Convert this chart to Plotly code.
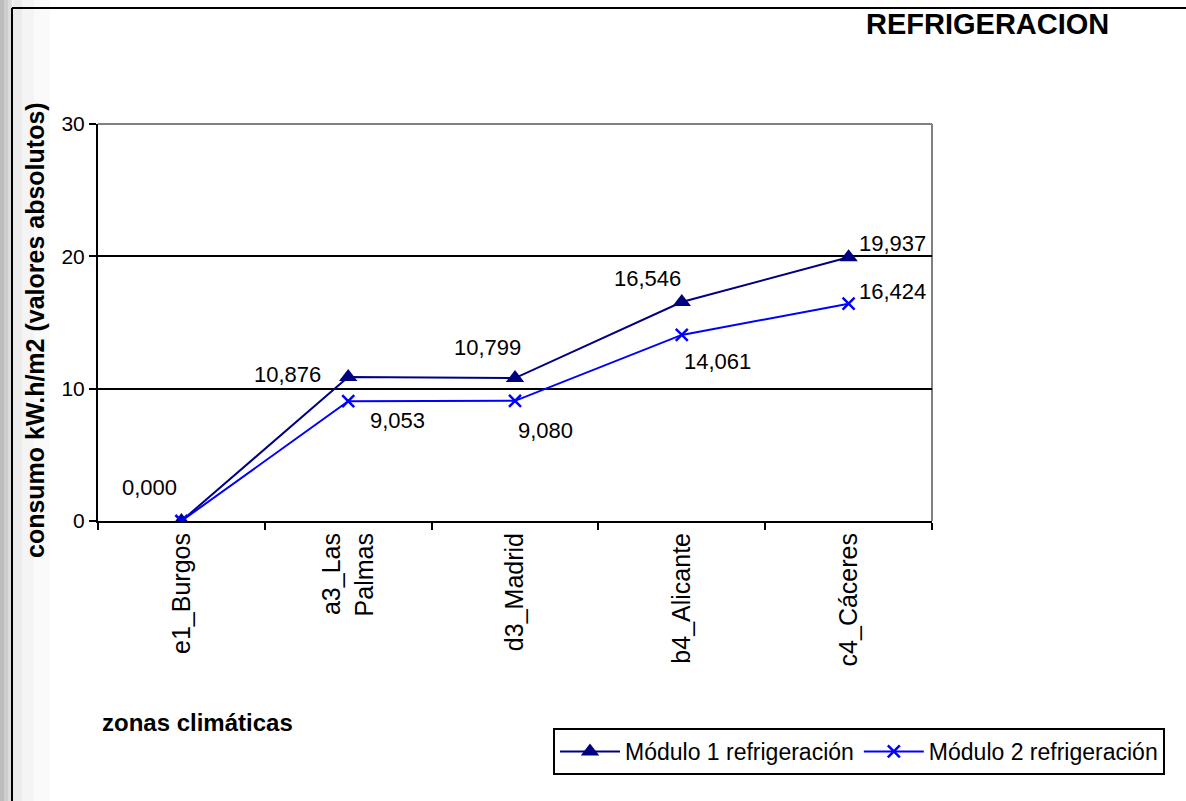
import plotly.graph_objects as go

# Climate zones and cooling consumption (kW.h/m2)
zonas = ["e1_Burgos", "a3_Las Palmas", "d3_Madrid", "b4_Alicante", "c4_Cáceres"]
zona_labels = ["e1_Burgos", "a3_Las<br>Palmas", "d3_Madrid", "b4_Alicante", "c4_Cáceres"]
modulo1 = [0.000, 10.876, 10.799, 16.546, 19.937]
modulo2 = [0.000, 9.053, 9.080, 14.061, 16.424]
y_ticks = [0, 10, 20, 30]

FONT = "Liberation Sans, Arial, sans-serif"
W, H = 1186, 801
L, R, T, B = 98, 932, 124, 521  # plot area in pixels


def px_x(px):
    return (px - L) / (R - L)


def px_y(py):
    return (B - py) / (B - T)


def fmt(v):
    return f"{v:.3f}".replace(".", ",")


fig = go.Figure()
fig.add_trace(go.Scatter(
    x=zonas, y=modulo1, mode="lines+markers", name="Módulo 1 refrigeración",
    line=dict(color="#000080", width=2),
    marker=dict(symbol="triangle-up", size=16, color="#000080"),
))
fig.add_trace(go.Scatter(
    x=zonas, y=modulo2, mode="lines+markers", name="Módulo 2 refrigeración",
    line=dict(color="#0000FF", width=2),
    marker=dict(symbol="x-thin", size=12, color="#0000FF",
                line=dict(color="#0000FF", width=2.5)),
))

# value labels (pixel offsets from each point)
off1 = [(-32, 34), (-61, 3), (-28, 31), (-34, 24), (44, 14)]
off2 = [None, (49, -19), (30, -30), (36, -27), (44, 12)]
annotations = []
for z, v, o in zip(zonas, modulo1, off1):
    annotations.append(dict(x=z, y=v, text=fmt(v), showarrow=False,
                            xshift=o[0], yshift=o[1],
                            font=dict(family=FONT, size=22, color="black")))
for z, v, o in zip(zonas, modulo2, off2):
    if o is None:
        continue
    annotations.append(dict(x=z, y=v, text=fmt(v), showarrow=False,
                            xshift=o[0], yshift=o[1],
                            font=dict(family=FONT, size=22, color="black")))

# titles
annotations.append(dict(xref="paper", yref="paper", x=px_x(864), y=px_y(24),
                        xanchor="left", yanchor="middle", showarrow=False,
                        text="<b>REFRIGERACION</b>",
                        font=dict(family=FONT, size=29, color="black")))
annotations.append(dict(xref="paper", yref="paper", x=px_x(35), y=px_y(330),
                        xanchor="center", yanchor="middle", showarrow=False,
                        textangle=-90,
                        text="<b>consumo kW.h/m2 (valores absolutos)</b>",
                        font=dict(family=FONT, size=25, color="black")))
annotations.append(dict(xref="paper", yref="paper", x=px_x(100), y=px_y(722),
                        xanchor="left", yanchor="middle", showarrow=False,
                        text="<b>zonas climáticas</b>",
                        font=dict(family=FONT, size=24, color="black")))

shapes = []
# left shaded strip of the sheet
strip = [(0, 4, "#bdbdbd"), (4, 8, "#cdcdcd"), (8, 12, "#dcdcdc"),
         (13, 22, "#ececec"), (22, 34, "#f4f4f4"), (34, 50, "#fafafa")]
for x0, x1, c in strip:
    shapes.append(dict(type="rect", xref="paper", yref="paper",
                       x0=px_x(x0), x1=px_x(x1), y0=px_y(H), y1=px_y(0),
                       fillcolor=c, line=dict(width=0), layer="below"))
# outer frame of the chart sheet
shapes.append(dict(type="line", xref="paper", yref="paper",
                   x0=px_x(12), x1=px_x(W), y0=px_y(8), y1=px_y(8),
                   line=dict(color="black", width=2)))
shapes.append(dict(type="line", xref="paper", yref="paper",
                   x0=px_x(12), x1=px_x(12), y0=px_y(8), y1=px_y(H),
                   line=dict(color="black", width=2)))
# plot area border: top and right in grey
shapes.append(dict(type="line", xref="paper", yref="paper",
                   x0=0, x1=1, y0=1, y1=1, line=dict(color="#808080", width=2),
                   layer="below"))
shapes.append(dict(type="line", xref="paper", yref="paper",
                   x0=1, x1=1, y0=0, y1=1, line=dict(color="#808080", width=2),
                   layer="below"))

fig.update_layout(
    width=W, height=H,
    margin=dict(l=L, r=W - R, t=T, b=H - B),
    paper_bgcolor="white", plot_bgcolor="white",
    font=dict(family=FONT, size=21, color="black"),
    showlegend=True,
    legend=dict(orientation="h", x=px_x(1165), y=px_y(728),
                xanchor="right", yanchor="top",
                bordercolor="black", borderwidth=2, bgcolor="white",
                font=dict(family=FONT, size=23, color="black"),
                itemwidth=60, tracegroupgap=0),
    annotations=annotations,
    shapes=shapes,
)
fig.update_xaxes(
    type="category", categoryorder="array", categoryarray=zonas,
    range=[-0.5, 4.5], tickvals=zonas, ticktext=zona_labels,
    tickangle=-90, tickson="boundaries", ticks="outside", ticklen=7,
    tickwidth=2, tickcolor="black", showline=True, linecolor="black",
    linewidth=2, showgrid=False, zeroline=False,
    tickfont=dict(family=FONT, size=25, color="black"),
)
fig.update_yaxes(
    range=[0, 30], tickvals=y_ticks, ticks="outside", ticklen=7,
    tickwidth=2, tickcolor="black", showline=True, linecolor="black",
    linewidth=2, showgrid=True, gridcolor="black", gridwidth=2,
    zeroline=False, tickfont=dict(family=FONT, size=21, color="black"),
)

fig.write_html("out.html")
